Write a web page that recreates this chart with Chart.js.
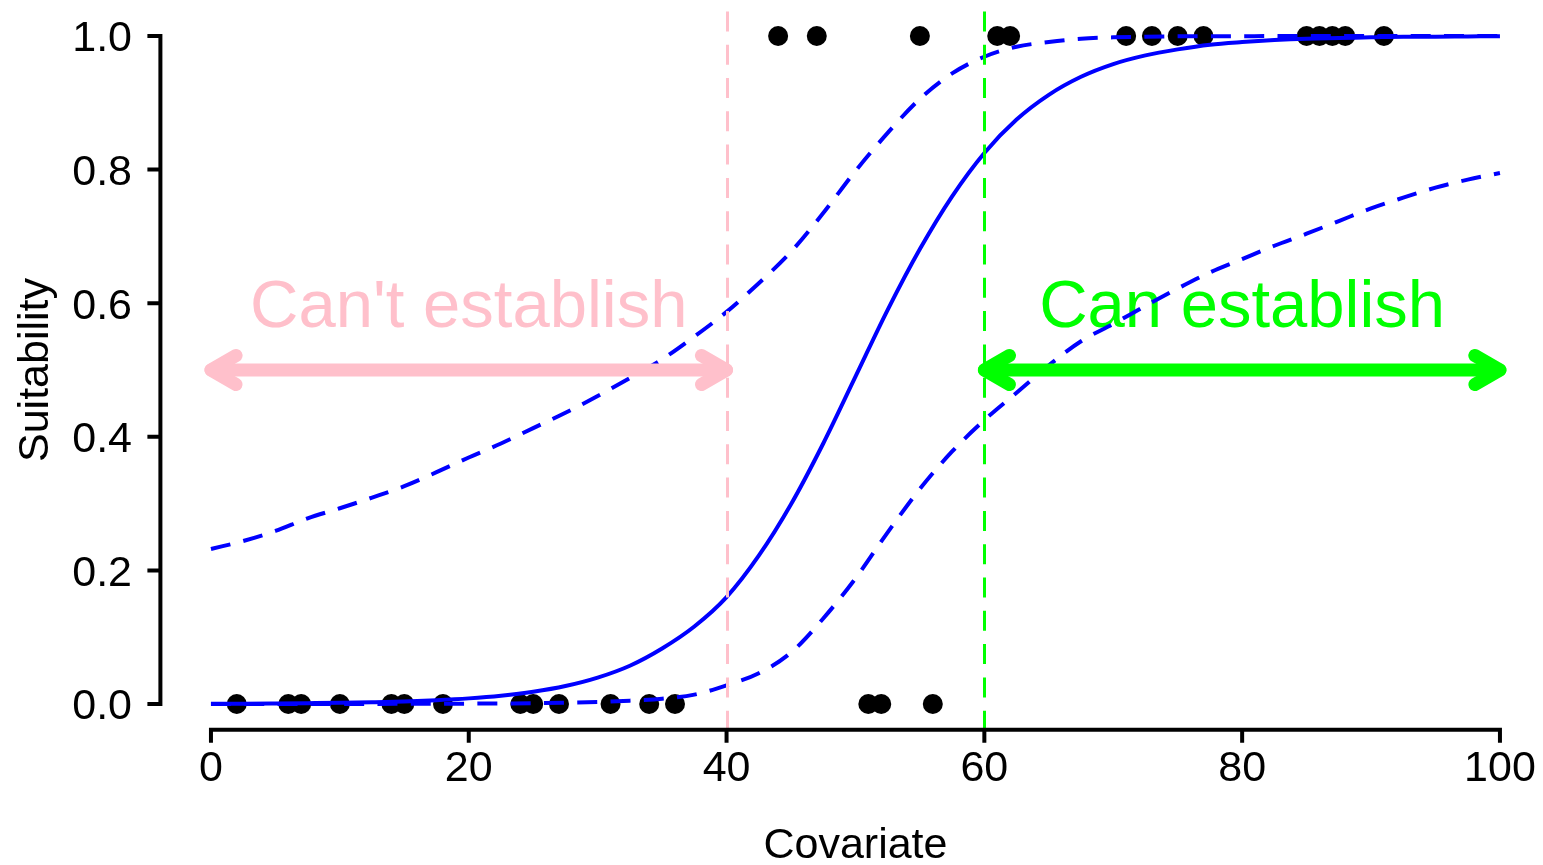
<!DOCTYPE html>
<html><head><meta charset="utf-8">
<script src="https://cdn.jsdelivr.net/npm/chart.js@4.4.1/dist/chart.umd.min.js"></script>
<style>html,body{margin:0;padding:0;background:#fff;overflow:hidden}canvas{display:block}</style>
</head><body>
<canvas id="c" width="1543" height="865"></canvas>
<script>
// ---- data ----
const obsX = [2,6,7,10,14,15,18,24,25,27,31,34,36,51,52,56,
              44,47,55,61,62,71,73,75,77,85,86,87,88,91];
const obsY = [0,0,0,0,0,0,0,0,0,0,0,0,0,0,0,0,
              1,1,1,1,1,1,1,1,1,1,1,1,1,1];
const curveX = [0,2.5,5,7.5,10,12.5,15,17.5,20,22.5,25,27.5,30,32.5,35,37.5,40,42.5,45,47.5,50,
                52.5,55,57.5,60,62.5,65,67.5,70,72.5,75,77.5,80,82.5,85,87.5,90,92.5,95,97.5,100];
const fitY = [0.0004,0.0005,0.0008,0.0012,0.0017,0.0026,0.0038,0.0057,0.0084,0.0124,0.0183,0.0269,0.0395,
              0.0573,0.0831,0.116,0.160,0.222,0.299,0.390,0.490,0.590,0.681,0.760,0.825,0.875,0.912,0.939,
              0.958,0.971,0.980,0.987,0.991,0.994,0.996,0.997,0.998,0.999,0.999,0.9994,0.9996];
const upperY = [0.232,0.244,0.259,0.278,0.293,0.309,0.326,0.347,0.369,0.390,0.413,0.436,0.461,0.488,0.516,
                0.550,0.587,0.630,0.677,0.735,0.798,0.855,0.906,0.944,0.969,0.984,0.991,0.996,0.998,0.999,
                0.9995,0.9997,0.9998,0.9999,1,1,1,1,1,1,1];
const lowerY = [0,0,0,0,0.0001,0.0001,0.0002,0.0003,0.0005,0.0008,0.0012,0.002,0.003,0.005,0.008,0.014,
                0.028,0.046,0.077,0.128,0.188,0.257,0.322,0.378,0.425,0.466,0.507,0.543,0.569,0.596,0.622,
                0.646,0.666,0.686,0.704,0.723,0.742,0.758,0.773,0.785,0.795];
const xTicks = [0,20,40,60,80,100];
const yTicks = [0,0.2,0.4,0.6,0.8,1.0];
const yTickLabels = ["0.0","0.2","0.4","0.6","0.8","1.0"];
const thresholds = [40,60];
const zoneLabels = ["Can't establish","Can establish"];
const zoneLabelX = [20,80];
const zoneLabelY = 0.6;
const zoneArrowFrom = [0,60];
const zoneArrowTo = [40,100];
const zoneArrowY = 0.5;

const PINK = '#FFC0CB', GREEN = '#00FF00', BLUE = '#0000FF';
const FONT = '"Liberation Sans", Arimo, Arial, sans-serif';
const pts = (xs, ys) => xs.map((x,i)=>({x, y: ys[i]}));

const rPlot = {
  id:'rPlot',
  beforeDatasetsDraw(chart){
    const {ctx, scales:{x, y}} = chart;
    ctx.save();
    ctx.font = '67px ' + FONT;
    ctx.textAlign = 'center';
    ctx.textBaseline = 'alphabetic';
    const colors = [PINK, GREEN];
    zoneLabels.forEach((t,i)=>{
      ctx.fillStyle = colors[i];
      ctx.fillText(t, x.getPixelForValue(zoneLabelX[i]), y.getPixelForValue(zoneLabelY) + 24);
    });
    ctx.restore();
  },
  afterDatasetsDraw(chart){
    const {ctx, chartArea:a, scales:{x, y}} = chart;
    ctx.save();
    // threshold lines
    const colors = [PINK, GREEN];
    thresholds.forEach((t,i)=>{
      ctx.strokeStyle = colors[i]; ctx.lineWidth = 3; ctx.setLineDash([20,13.3]); ctx.lineCap='butt';
      const px = Math.round(x.getPixelForValue(t)) + 0.5;
      ctx.beginPath(); ctx.moveTo(px, a.bottom); ctx.lineTo(px, a.top); ctx.stroke();
    });
    ctx.setLineDash([]);
    // arrows
    zoneArrowFrom.forEach((f,i)=>{
      const x1 = x.getPixelForValue(f), x2 = x.getPixelForValue(zoneArrowTo[i]), yy = y.getPixelForValue(zoneArrowY);
      ctx.strokeStyle = colors[i]; ctx.lineWidth = 13; ctx.lineCap='round'; ctx.lineJoin='round';
      ctx.beginPath(); ctx.moveTo(x1,yy); ctx.lineTo(x2,yy); ctx.stroke();
      const L = 29, ang = Math.PI/6;
      [[x1,1],[x2,-1]].forEach(([tx,d])=>{
        ctx.beginPath();
        ctx.moveTo(tx + d*L*Math.cos(ang), yy - L*Math.sin(ang));
        ctx.lineTo(tx, yy);
        ctx.lineTo(tx + d*L*Math.cos(ang), yy + L*Math.sin(ang));
        ctx.stroke();
      });
    });
    // axes (R style)
    ctx.strokeStyle = '#000'; ctx.lineWidth = 4; ctx.lineCap = 'butt';
    const ax = a.left + 1, ay = a.bottom - 1;
    ctx.beginPath();
    ctx.moveTo(ax, y.getPixelForValue(yTicks[0]) + 2); ctx.lineTo(ax, y.getPixelForValue(yTicks[yTicks.length-1]) - 2);
    yTicks.forEach(v=>{ const p = y.getPixelForValue(v); ctx.moveTo(ax+2, p); ctx.lineTo(ax-13, p); });
    ctx.moveTo(x.getPixelForValue(xTicks[0]) - 2, ay); ctx.lineTo(x.getPixelForValue(xTicks[xTicks.length-1]) + 2, ay);
    xTicks.forEach(v=>{ const p = x.getPixelForValue(v); ctx.moveTo(p, ay-2); ctx.lineTo(p, ay+13); });
    ctx.stroke();
    ctx.fillStyle = '#000';
    ctx.font = '43px ' + FONT;
    ctx.textBaseline = 'alphabetic';
    ctx.textAlign = 'right';
    yTicks.forEach((v,i)=>{ ctx.fillText(yTickLabels[i], 132, y.getPixelForValue(v) + 15.4); });
    ctx.textAlign = 'center';
    xTicks.forEach(v=>{ ctx.fillText(String(v), x.getPixelForValue(v), 781); });
    ctx.fillText('Covariate', x.getPixelForValue(50), 858);
    ctx.save();
    ctx.translate(48, y.getPixelForValue(0.5));
    ctx.rotate(-Math.PI/2);
    ctx.fillText('Suitability', 0, 0);
    ctx.restore();
    ctx.restore();
  }
};

new Chart(document.getElementById('c'), {
  type: 'scatter',
  data: { datasets: [
    { label:'fit', data: pts(curveX, fitY), showLine:true, borderColor:BLUE, borderWidth:4,
      pointRadius:0, cubicInterpolationMode:'monotone', fill:false },
    { label:'upper', data: pts(curveX, upperY), showLine:true, borderColor:BLUE, borderWidth:4,
      borderDash:[20,13.3], pointRadius:0, cubicInterpolationMode:'monotone', fill:false },
    { label:'lower', data: pts(curveX, lowerY), showLine:true, borderColor:BLUE, borderWidth:4,
      borderDash:[20,13.3], pointRadius:0, cubicInterpolationMode:'monotone', fill:false },
    { label:'observed', data: pts(obsX, obsY), showLine:false, pointRadius:10,
      pointBackgroundColor:'#000', pointBorderWidth:0, pointBorderColor:'#000' }
  ]},
  options: {
    responsive:false, animation:false, devicePixelRatio:1,
    layout:{ autoPadding:false, padding:{ left:159.4, right:0, top:9.3, bottom:134.3 } },
    plugins:{ legend:{display:false}, tooltip:{enabled:false} },
    events: [],
    scales:{
      x:{ type:'linear', min:-4, max:103.34, display:false },
      y:{ type:'linear', min:-0.04, max:1.04, display:false }
    }
  },
  plugins:[rPlot]
});
</script>
</body></html>
